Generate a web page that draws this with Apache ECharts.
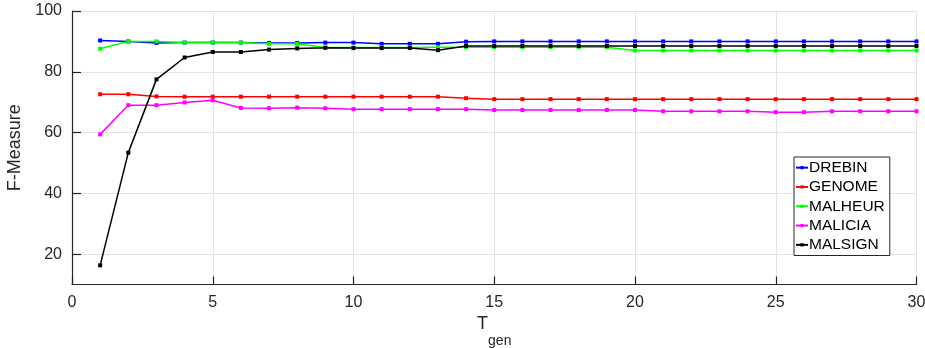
<!DOCTYPE html>
<html>
<head>
<meta charset="utf-8">
<script src="https://cdn.jsdelivr.net/npm/echarts@6/dist/echarts.min.js"></script>
<style>
  html, body { margin: 0; padding: 0; background: #fff; }
  #chartBox { width: 925px; height: 348px; }
</style>
</head>
<body>
<div id="chartBox"></div>
<script>
// T_gen values 1..30
const tgen = [1,2,3,4,5,6,7,8,9,10,11,12,13,14,15,16,17,18,19,20,21,22,23,24,25,26,27,28,29,30];

const drebin = [90.3,90.0,89.5,89.6,89.6,89.6,89.5,89.5,89.6,89.6,89.2,89.2,89.2,89.9,90.0,90.0,90.0,90.0,90.0,90.0,90.0,90.0,90.0,90.0,90.0,90.0,90.0,90.0,90.0,90.0];
const genome = [72.6,72.6,71.9,71.8,71.8,71.8,71.8,71.8,71.8,71.8,71.8,71.8,71.8,71.3,71.0,71.0,71.0,71.0,71.0,71.0,71.0,71.0,71.0,71.0,71.0,71.0,71.0,71.0,71.0,71.0];
const malheur = [87.6,90.0,90.0,89.6,89.6,89.6,89.2,89.2,88.0,88.0,88.0,88.0,88.1,88.1,88.1,88.1,88.1,88.1,88.1,87.0,87.0,87.0,87.0,87.0,87.0,87.0,87.0,87.0,87.0,87.0];
const malicia = [59.4,69.0,69.0,69.9,70.6,68.1,68.0,68.2,68.0,67.7,67.7,67.7,67.7,67.7,67.4,67.4,67.4,67.4,67.4,67.4,67.0,67.0,67.0,67.0,66.7,66.7,67.0,67.0,67.0,67.0];
const malsign = [16.3,53.4,77.5,84.7,86.5,86.5,87.3,87.7,87.9,87.8,87.8,87.8,87.1,88.5,88.5,88.5,88.5,88.5,88.5,88.5,88.5,88.5,88.5,88.5,88.5,88.5,88.5,88.5,88.5,88.5];

const seriesNames = ["DREBIN", "GENOME", "MALHEUR", "MALICIA", "MALSIGN"];
const seriesColors = ["#0000ff", "#ff0000", "#00ff00", "#ff00ff", "#000000"];
const seriesData = [drebin, genome, malheur, malicia, malsign];

const yTicks = [20, 40, 60, 80, 100];

const axisColor = "#262626";
const gridColor = "#e3e3e3";
const fontFamily = "Liberation Sans, Arial, sans-serif";

var myChart = echarts.init(document.getElementById("chartBox"));

function makeSeries(i) {
  return {
    name: seriesNames[i],
    type: "line",
    data: tgen.map((x, k) => [x, seriesData[i][k]]),
    symbol: "rect",
    symbolSize: 4,
    showSymbol: true,
    color: seriesColors[i],
    lineStyle: { width: 1.5, color: seriesColors[i] },
    itemStyle: { color: seriesColors[i] },
    animation: false,
  };
}

var option = {
  animation: false,
  textStyle: { fontFamily: fontFamily },
  grid: { left: 72, right: 8.5, top: 11, bottom: 63.5, containLabel: false, outerBoundsMode: "none" },
  xAxis: {
    type: "value",
    min: 0,
    max: 30,
    interval: 5,
    name: "T{s|gen}",
    nameLocation: "middle",
    nameGap: 16,
    nameTextStyle: {
      color: axisColor,
      fontSize: 18,
      verticalAlign: "top",
      rich: {
        s: { fontSize: 14, color: axisColor, padding: [33, 0, 0, 0], verticalAlign: "bottom" },
      },
    },
    axisLine: { show: true, lineStyle: { color: axisColor, width: 1.2 } },
    axisTick: { show: true, inside: true, length: 8, lineStyle: { color: "#222", width: 1.2 } },
    axisLabel: { color: axisColor, fontSize: 16, margin: 10 },
    splitLine: { show: true, lineStyle: { color: gridColor, width: 1 } },
  },
  yAxis: {
    type: "value",
    min: 10,
    max: 100,
    name: "F-Measure",
    nameLocation: "middle",
    nameGap: 44,
    nameRotate: 90,
    nameTextStyle: { color: axisColor, fontSize: 18 },
    axisLine: { show: true, lineStyle: { color: axisColor, width: 1.2 } },
    axisTick: { show: true, inside: true, length: 9, lineStyle: { color: "#222", width: 1.2 }, customValues: yTicks },
    axisLabel: { color: axisColor, fontSize: 16, margin: 10, customValues: yTicks },
    splitLine: { show: true, lineStyle: { color: gridColor, width: 1 } },
  },
  legend: {
    orient: "vertical",
    left: 794,
    top: 157,
    padding: [1, 5, 1, 1],
    itemGap: 0,
    itemWidth: 12,
    itemHeight: 4,
    backgroundColor: "#ffffff",
    borderColor: axisColor,
    borderWidth: 1,
    textStyle: { color: "#000", fontSize: 15.5, lineHeight: 19.3, padding: [0, 0, 0, -4] },
    data: seriesNames,
  },
  series: seriesNames.map((n, i) => makeSeries(i)),
};

myChart.setOption(option);
</script>
</body>
</html>
